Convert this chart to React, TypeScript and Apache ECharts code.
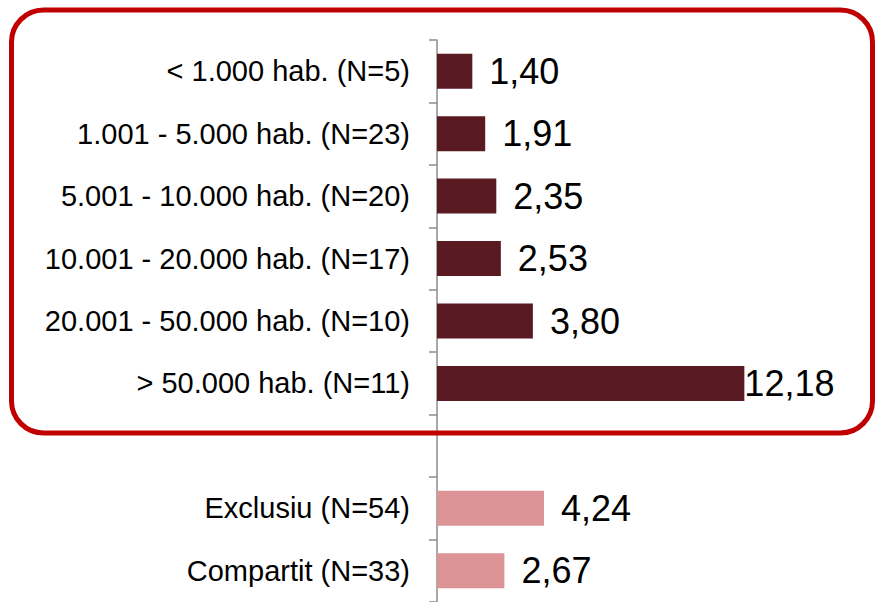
import React, { useEffect, useRef } from "react";
import * as echarts from "echarts";

const categories = [
  "< 1.000 hab. (N=5)",
  "1.001 - 5.000 hab. (N=23)",
  "5.001 - 10.000 hab. (N=20)",
  "10.001 - 20.000 hab. (N=17)",
  "20.001 - 50.000 hab. (N=10)",
  "> 50.000 hab. (N=11)",
  "",
  "Exclusiu (N=54)",
  "Compartit (N=33)",
];
const values: (number | null)[] = [1.4, 1.91, 2.35, 2.53, 3.8, 12.18, null, 4.24, 2.67];
const groups = ["size", "size", "size", "size", "size", "size", "gap", "type", "type"];

const DARK = "#5A1A22";
const PINK = "#DC9497";
const FONT = "'Liberation Sans', Arial, sans-serif";

export default function App() {
  const ref = useRef<HTMLDivElement>(null);
  useEffect(() => {
    if (!ref.current) return;
    const chart = echarts.init(ref.current, null, { renderer: "svg" });
    const data = values.map((v, i) => {
      if (v === null) return null;
      const item: any = {
        value: v,
        itemStyle: { color: groups[i] === "size" ? DARK : PINK },
      };
      if (v > 10) item.label = { distance: 0 };
      return item;
    });
    chart.setOption({
      animation: false,
      grid: { left: 437, right: 9, top: 40, bottom: 0, containLabel: false },
      xAxis: {
        type: "value",
        min: 0,
        max: 17,
        show: false,
      },
      yAxis: {
        type: "category",
        data: categories,
        inverse: true,
        axisLine: { show: true, lineStyle: { color: "#8C8C8C", width: 1.5 } },
        axisTick: { show: true, length: 8, lineStyle: { color: "#8C8C8C", width: 1.5 } },
        axisLabel: {
          margin: 27,
          color: "#000",
          fontSize: 29,
          fontFamily: FONT,
        },
        splitLine: { show: false },
      },
      series: [
        {
          type: "bar",
          data,
          barWidth: 35,
          label: {
            show: true,
            position: "right",
            distance: 17,
            color: "#000",
            fontSize: 36,
            fontFamily: FONT,
            formatter: (p: any) => Number(p.value).toFixed(2).replace(".", ","),
          },
        },
      ],
      graphic: [
        {
          type: "rect",
          shape: { x: 11.5, y: 10, width: 861, height: 423, r: 32 },
          style: { fill: "none", stroke: "#C00000", lineWidth: 5 },
          z: 100,
        },
      ],
    });
    return () => chart.dispose();
  }, []);
  return (
    <div
      ref={ref}
      style={{ position: "fixed", left: 0, top: 0, width: 875, height: 602, background: "#fff" }}
    />
  );
}
